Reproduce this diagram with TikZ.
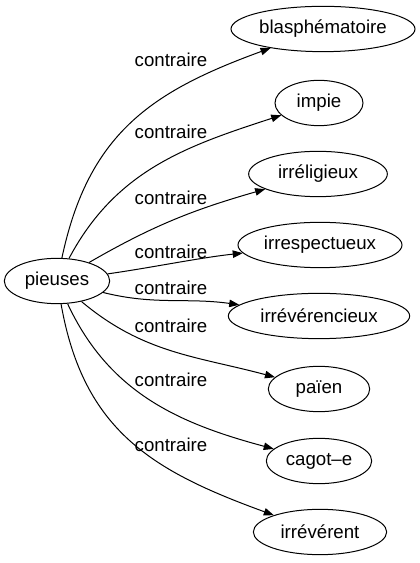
\documentclass[tikz,border=0pt]{standalone}
\usepackage{fontspec}
\setmainfont{Liberation Sans}
\usetikzlibrary{arrows.meta,shapes.geometric}

\begin{document}
\begin{tikzpicture}[
      x=0.75pt, y=0.75pt,
      word/.style={draw, ellipse, line width=0.75pt, inner sep=0pt,
                   minimum height=34pt, font=\fontsize{14pt}{16pt}\selectfont},
      rel/.style={font=\fontsize{14pt}{16pt}\selectfont, inner sep=0pt},
      arr/.style={-{Triangle[length=7.5pt, width=5.6pt]}, line width=0.75pt}]
    \useasboundingbox (0,0) rectangle (419,563);
    \node[word, minimum width=79pt]  (pieuses)   at (57,282)  {pieuses};
    \node[word, minimum width=138pt] (blasph)    at (323,534) {blasphématoire};
    \node[word, minimum width=66pt]  (impie)     at (319,460) {impie};
    \node[word, minimum width=104pt] (irrelig)   at (318,389) {irréligieux};
    \node[word, minimum width=123pt] (irresp)    at (320,318) {irrespectueux};
    \node[word, minimum width=136pt] (irreveren) at (319,247) {irrévérencieux};
    \node[word, minimum width=76pt]  (paien)     at (319,174) {païen};
    \node[word, minimum width=79pt]  (cagot)     at (319,102) {cagot–e};
    \node[word, minimum width=100pt] (irrevent)  at (320,31)  {irrévérent};
    \node[rel] (l1) at (171,503) {contraire};
    \node[rel] (l2) at (171,431) {contraire};
    \node[rel] (l3) at (171,365) {contraire};
    \node[rel] (l4) at (171,311) {contraire};
    \node[rel] (l5) at (171,275) {contraire};
    \node[rel] (l6) at (171,237) {contraire};
    \node[rel] (l7) at (171,183) {contraire};
    \node[rel] (l8) at (171,118) {contraire};
    \draw[arr] (pieuses) to[out=78, in=200, looseness=1.1] (blasph);
    \draw[arr] (pieuses) to[out=62, in=198] (impie);
    \draw[arr] (pieuses) to[out=30, in=196] (irrelig);
    \draw[arr] (pieuses) to[out=8, in=186, looseness=0.8] (irresp);
    \draw[arr] (pieuses) to[out=-14, in=172] (irreveren);
    \draw[arr] (pieuses) to[out=-40, in=165] (paien);
    \draw[arr] (pieuses) to[out=-65, in=165] (cagot);
    \draw[arr] (pieuses) to[out=-80, in=160, looseness=1.1] (irrevent);
\end{tikzpicture}
\end{document}
